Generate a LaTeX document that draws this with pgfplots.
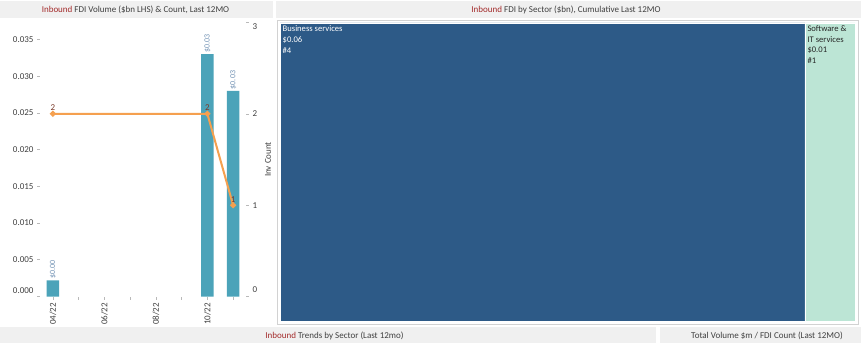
\documentclass[border=0pt]{standalone}
\usepackage{pgfplots}
\pgfplotsset{compat=1.18}
\usepackage{fontspec}
\setmainfont{Carlito}
\definecolor{barc}{HTML}{4BA3B9}
\definecolor{linec}{HTML}{F5A04F}
\definecolor{tmdark}{HTML}{2D5A87}
\definecolor{tmlight}{HTML}{BCE5D5}
\definecolor{hdr}{HTML}{F0F0F0}
\definecolor{inb}{HTML}{A32A2A}
\definecolor{txt}{HTML}{404040}
\definecolor{lbl}{HTML}{7393B5}
\definecolor{cnt}{HTML}{7A3A2A}
\begin{document}
\begin{tikzpicture}
\useasboundingbox (0pt,0pt) rectangle (861pt,343pt);
\fill[white] (0pt,0pt) rectangle (861pt,343pt);
% header bands
\fill[hdr] (0pt,325pt) rectangle (273pt,342pt);
\fill[hdr] (276pt,325pt) rectangle (861pt,342pt);
\fill[hdr] (0pt,0pt) rectangle (656pt,16pt);
\fill[hdr] (660pt,0pt) rectangle (861pt,16pt);
\node[font=\fontsize{9}{10}\selectfont, text=txt] at (135.5pt,333.5pt) {\textcolor{inb}{Inbound} FDI Volume (\$bn LHS) \& Count, Last 12MO};
\node[font=\fontsize{9}{10}\selectfont, text=txt] at (566pt,333.5pt) {\textcolor{inb}{Inbound} FDI by Sector (\$bn), Cumulative Last 12MO};
\node[font=\fontsize{9}{10}\selectfont, text=txt] at (334.5pt,7pt) {\textcolor{inb}{Inbound} Trends by Sector (Last 12mo)};
\node[font=\fontsize{9}{10}\selectfont, text=txt] at (767pt,7pt) {Total Volume \$m / FDI Count (Last 12MO)};
\draw[gray!35] (277pt,18.5pt) rectangle (858pt,323pt);

% left chart: volume bars
\begin{axis}[at={(40pt,46.5pt)}, anchor=south west, width=206pt, height=274pt, scale only axis,
  xmin=-0.5, xmax=7.5, ymin=0, ymax=0.0373,
  axis x line*=bottom, axis y line*=left, axis line style={draw=none},
  tick align=outside, major tick length=3pt, tick style={gray!55, line width=0.6pt},
  xtick={0,1,2,3,4,5,6,7}, xticklabels={04/22,,06/22,,08/22,,10/22,},
  xticklabel style={rotate=90, anchor=east, font=\fontsize{9}{10}\selectfont, text=txt},
  scaled y ticks=false,
  ytick={0,0.005,0.010,0.015,0.020,0.025,0.030,0.035},
  yticklabels={\raisebox{6pt}[\height][\depth]{0.000},0.005,0.010,0.015,0.020,0.025,0.030,0.035},
  yticklabel style={font=\fontsize{9}{10}\selectfont, text=txt},
  clip=false]
\addplot[ybar, bar width=12.5pt, fill=barc, draw=none,
  nodes near coords, point meta=explicit symbolic,
  nodes near coords style={rotate=90, anchor=west, font=\fontsize{8}{9}\selectfont, text=lbl, inner sep=1.5pt}]
  coordinates {(0,0.0022)[\$0.00] (6,0.033)[\$0.03] (7,0.028)[\$0.03]};
\end{axis}

% left chart: count line
\begin{axis}[at={(40pt,46.5pt)}, anchor=south west, width=206pt, height=274pt, scale only axis,
  xmin=-0.5, xmax=7.5, ymin=0, ymax=3,
  axis x line=none, axis y line*=right, axis line style={draw=none},
  tick align=outside, major tick length=3pt, tick style={gray!55, line width=0.6pt},
  ytick={0,1,2,3},
  yticklabels={\raisebox{7pt}[\height][\depth]{0},1,2,\raisebox{-4.5pt}[\height][\depth]{3}},
  yticklabel style={font=\fontsize{9}{10}\selectfont, text=txt},
  ylabel={Inv Count},
  ylabel style={at={(rel axis cs:1,0.5)}, anchor=center, yshift=-22pt, font=\fontsize{9}{10}\selectfont, text=txt},
  clip=false]
\addplot[linec, line width=2pt, mark=*, mark size=1.8pt,
  nodes near coords, point meta=explicit symbolic,
  nodes near coords style={anchor=south, font=\fontsize{9}{10}\selectfont, text=cnt, inner sep=2pt}]
  coordinates {(0,2)[2] (6,2)[2] (7,1)[1]};
\end{axis}

% treemap
\begin{axis}[at={(280pt,22pt)}, anchor=south west, width=575pt, height=298pt, scale only axis,
  hide axis, xmin=0, xmax=0.063, ymin=0, ymax=1, clip=false]
\addplot[fill=tmdark, draw=white, line width=0.5pt] coordinates {(0,0) (0.0575,0) (0.0575,1) (0,1) (0,0)};
\addplot[fill=tmlight, draw=white, line width=0.5pt] coordinates {(0.0575,0) (0.063,0) (0.063,1) (0.0575,1) (0.0575,0)};
\node[anchor=north west, align=left, text=white, font=\fontsize{8.6}{10.7}\selectfont, inner sep=2.5pt] at (axis cs:0,1) {Business services\\\$0.06\\\#4};
\node[anchor=north west, align=left, text=black!85, font=\fontsize{8.6}{10.7}\selectfont, inner sep=2.5pt] at (axis cs:0.0575,1) {Software \&\\IT services\\\$0.01\\\#1};
\end{axis}
\end{tikzpicture}
\end{document}
